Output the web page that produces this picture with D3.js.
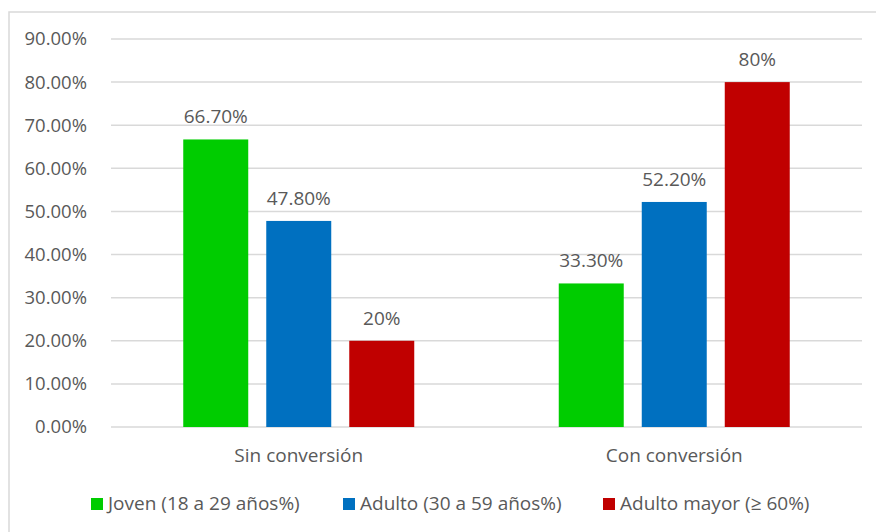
<!DOCTYPE html>
<html>
<head>
<meta charset="utf-8">
<script src="https://cdn.jsdelivr.net/npm/d3@7"></script>
<style>
  body { margin: 0; background: #fff; }
  svg { display: block; }
</style>
</head>
<body>
<div id="viz"></div>
<script>
const categories = ['Sin conversión', 'Con conversión'];
const series = ['Joven (18 a 29 años%)', 'Adulto (30 a 59 años%)', 'Adulto mayor (≥ 60%)'];
const joven = [66.7, 33.3];
const adulto = [47.8, 52.2];
const mayor = [20, 80];
const valueLabels = [['66.70%', '47.80%', '20%'], ['33.30%', '52.20%', '80%']];
const yTicks = [0, 10, 20, 30, 40, 50, 60, 70, 80, 90];
const colors = ['#00cc00', '#0070c0', '#c00000'];

const width = 876, height = 532;
const font = "'Open Sans', sans-serif";
const textColor = '#595959';

const svg = d3.select('#viz').append('svg')
  .attr('width', width)
  .attr('height', height);

// chart frame (only top and left edges show in the crop)
svg.append('rect')
  .attr('x', 9).attr('y', 12)
  .attr('width', 880).attr('height', 540)
  .attr('fill', 'none')
  .attr('stroke', '#d9d9d9')
  .attr('stroke-width', 1.5);

const plot = { left: 111, right: 862, top: 39, bottom: 427 };

const yScale = d3.scaleLinear()
  .domain([0, 90])
  .range([plot.bottom, plot.top]);

const x0 = d3.scaleBand()
  .domain(categories)
  .range([plot.left, plot.right]);

const groupW = 231;
const x1 = d3.scaleBand()
  .domain(series)
  .range([(x0.bandwidth() - groupW) / 2, (x0.bandwidth() + groupW) / 2])
  .paddingInner(0.217);

// gridlines
svg.append('g')
  .selectAll('line')
  .data(yTicks)
  .enter().append('line')
  .attr('x1', plot.left)
  .attr('x2', plot.right)
  .attr('y1', d => yScale(d))
  .attr('y2', d => yScale(d))
  .attr('stroke', '#d9d9d9')
  .attr('stroke-width', 1.5);

// y axis labels
const yAxis = svg.append('g')
  .attr('transform', `translate(${plot.left - 21}, 0)`)
  .call(d3.axisLeft(yScale).tickValues(yTicks).tickSize(0).tickFormat(d => d.toFixed(2) + '%'));
yAxis.select('.domain').remove();
yAxis.selectAll('text')
  .attr('fill', textColor)
  .style('font-family', font)
  .style('font-size', '18.5px');

const rows = categories.map((c, i) => ({ cat: c, values: [joven[i], adulto[i], mayor[i]], labels: valueLabels[i] }));

const groups = svg.selectAll('.group')
  .data(rows)
  .enter().append('g')
  .attr('class', 'group')
  .attr('transform', d => `translate(${x0(d.cat)}, 0)`);

groups.selectAll('rect')
  .data(d => d.values.map((v, j) => ({ key: series[j], v, label: d.labels[j], j })))
  .enter().append('rect')
  .attr('x', d => x1(d.key))
  .attr('y', d => yScale(d.v))
  .attr('width', x1.bandwidth())
  .attr('height', d => yScale(0) - yScale(d.v))
  .attr('fill', d => colors[d.j]);

groups.selectAll('.vlabel')
  .data(d => d.values.map((v, j) => ({ key: series[j], v, label: d.labels[j], j })))
  .enter().append('text')
  .attr('class', 'vlabel')
  .attr('x', d => x1(d.key) + x1.bandwidth() / 2)
  .attr('y', d => yScale(d.v) - 16)
  .attr('text-anchor', 'middle')
  .attr('fill', textColor)
  .style('font-family', font)
  .style('font-size', '19px')
  .text(d => d.label);

// category labels
svg.append('g')
  .selectAll('text')
  .data(categories)
  .enter().append('text')
  .attr('x', d => x0(d) + x0.bandwidth() / 2)
  .attr('y', 462)
  .attr('text-anchor', 'middle')
  .attr('fill', textColor)
  .style('font-family', font)
  .style('font-size', '19px')
  .text(d => d);

// legend
const legendX = [91, 343, 603];
const legendItem = svg.append('g')
  .selectAll('g')
  .data(series)
  .enter().append('g')
  .attr('transform', (d, i) => `translate(${legendX[i]}, 498)`);

legendItem.append('rect')
  .attr('width', 12)
  .attr('height', 12)
  .attr('fill', (d, i) => colors[i]);

legendItem.append('text')
  .attr('x', 17)
  .attr('y', 12)
  .attr('fill', textColor)
  .style('font-family', font)
  .style('font-size', '19px')
  .text(d => d);
</script>
</body>
</html>
